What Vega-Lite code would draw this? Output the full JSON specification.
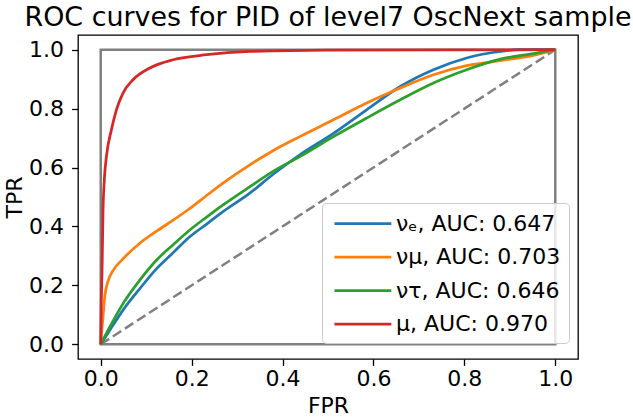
{
  "$schema": "https://vega.github.io/schema/vega-lite/v6.json",
  "width": 500,
  "height": 324,
  "autosize": {"type": "none"},
  "padding": {"left": 78, "top": 35, "right": 55, "bottom": 60},
  "background": "white",
  "title": {
    "text": "ROC curves for PID of level7 OscNext sample",
    "font": "DejaVu Sans",
    "fontSize": 26.9,
    "fontWeight": "normal",
    "color": "black",
    "anchor": "middle",
    "frame": "group",
    "baseline": "alphabetic",
    "offset": -18
  },
  "config": {
    "view": {"stroke": "black", "strokeWidth": 1.3},
    "axis": {
      "domain": false,
      "grid": false,
      "ticks": true,
      "tickColor": "black",
      "tickSize": 6.4,
      "tickWidth": 1.3,
      "labelFont": "DejaVu Sans",
      "labelFontSize": 22,
      "labelColor": "black",
      "titleFont": "DejaVu Sans",
      "titleFontSize": 22,
      "titleFontWeight": "normal",
      "titleColor": "black"
    },
    "legend": {
      "orient": "none",
      "legendX": 244,
      "legendY": 168,
      "labelFont": "DejaVu Sans",
      "labelFontSize": 22,
      "labelColor": "black",
      "labelLimit": 400,
      "symbolType": "M-0.73,0H4.44",
      "symbolSize": 484,
      "symbolStrokeWidth": 2.75,
      "labelOffset": 41,
      "padding": 8,
      "rowPadding": 9.5,
      "fillColor": "rgba(255,255,255,0.8)",
      "strokeColor": "#cccccc",
      "cornerRadius": 4
    }
  },
  "datasets": {
    "roc": [
      {"s": "νₑ, AUC: 0.647", "fpr": 0, "tpr": 0},
      {"s": "νₑ, AUC: 0.647", "fpr": 0.02, "tpr": 0.048},
      {"s": "νₑ, AUC: 0.647", "fpr": 0.049, "tpr": 0.116},
      {"s": "νₑ, AUC: 0.647", "fpr": 0.086, "tpr": 0.189},
      {"s": "νₑ, AUC: 0.647", "fpr": 0.123, "tpr": 0.257},
      {"s": "νₑ, AUC: 0.647", "fpr": 0.16, "tpr": 0.312},
      {"s": "νₑ, AUC: 0.647", "fpr": 0.196, "tpr": 0.365},
      {"s": "νₑ, AUC: 0.647", "fpr": 0.233, "tpr": 0.408},
      {"s": "νₑ, AUC: 0.647", "fpr": 0.269, "tpr": 0.45},
      {"s": "νₑ, AUC: 0.647", "fpr": 0.328, "tpr": 0.513},
      {"s": "νₑ, AUC: 0.647", "fpr": 0.38, "tpr": 0.578},
      {"s": "νₑ, AUC: 0.647", "fpr": 0.438, "tpr": 0.643},
      {"s": "νₑ, AUC: 0.647", "fpr": 0.512, "tpr": 0.716},
      {"s": "νₑ, AUC: 0.647", "fpr": 0.585, "tpr": 0.796},
      {"s": "νₑ, AUC: 0.647", "fpr": 0.659, "tpr": 0.875},
      {"s": "νₑ, AUC: 0.647", "fpr": 0.732, "tpr": 0.932},
      {"s": "νₑ, AUC: 0.647", "fpr": 0.805, "tpr": 0.972},
      {"s": "νₑ, AUC: 0.647", "fpr": 0.879, "tpr": 0.994},
      {"s": "νₑ, AUC: 0.647", "fpr": 0.92, "tpr": 1.0},
      {"s": "νₑ, AUC: 0.647", "fpr": 1.0, "tpr": 1.0},
      {"s": "νμ, AUC: 0.703", "fpr": 0, "tpr": 0},
      {"s": "νμ, AUC: 0.703", "fpr": 0.002, "tpr": 0.04},
      {"s": "νμ, AUC: 0.703", "fpr": 0.005, "tpr": 0.093},
      {"s": "νμ, AUC: 0.703", "fpr": 0.0088, "tpr": 0.161},
      {"s": "νμ, AUC: 0.703", "fpr": 0.016, "tpr": 0.214},
      {"s": "νμ, AUC: 0.703", "fpr": 0.027, "tpr": 0.25},
      {"s": "νμ, AUC: 0.703", "fpr": 0.049, "tpr": 0.29},
      {"s": "νμ, AUC: 0.703", "fpr": 0.086, "tpr": 0.343},
      {"s": "νμ, AUC: 0.703", "fpr": 0.123, "tpr": 0.384},
      {"s": "νμ, AUC: 0.703", "fpr": 0.16, "tpr": 0.422},
      {"s": "νμ, AUC: 0.703", "fpr": 0.196, "tpr": 0.461},
      {"s": "νμ, AUC: 0.703", "fpr": 0.233, "tpr": 0.505},
      {"s": "νμ, AUC: 0.703", "fpr": 0.269, "tpr": 0.547},
      {"s": "νμ, AUC: 0.703", "fpr": 0.328, "tpr": 0.609},
      {"s": "νμ, AUC: 0.703", "fpr": 0.38, "tpr": 0.658},
      {"s": "νμ, AUC: 0.703", "fpr": 0.438, "tpr": 0.705},
      {"s": "νμ, AUC: 0.703", "fpr": 0.512, "tpr": 0.762},
      {"s": "νμ, AUC: 0.703", "fpr": 0.585, "tpr": 0.819},
      {"s": "νμ, AUC: 0.703", "fpr": 0.659, "tpr": 0.87},
      {"s": "νμ, AUC: 0.703", "fpr": 0.732, "tpr": 0.915},
      {"s": "νμ, AUC: 0.703", "fpr": 0.805, "tpr": 0.946},
      {"s": "νμ, AUC: 0.703", "fpr": 0.879, "tpr": 0.963},
      {"s": "νμ, AUC: 0.703", "fpr": 0.952, "tpr": 0.981},
      {"s": "νμ, AUC: 0.703", "fpr": 1.0, "tpr": 1.0},
      {"s": "ντ, AUC: 0.646", "fpr": 0, "tpr": 0},
      {"s": "ντ, AUC: 0.646", "fpr": 0.02, "tpr": 0.059},
      {"s": "ντ, AUC: 0.646", "fpr": 0.049, "tpr": 0.138},
      {"s": "ντ, AUC: 0.646", "fpr": 0.086, "tpr": 0.218},
      {"s": "ντ, AUC: 0.646", "fpr": 0.123, "tpr": 0.286},
      {"s": "ντ, AUC: 0.646", "fpr": 0.16, "tpr": 0.339},
      {"s": "ντ, AUC: 0.646", "fpr": 0.196, "tpr": 0.388},
      {"s": "ντ, AUC: 0.646", "fpr": 0.233, "tpr": 0.432},
      {"s": "ντ, AUC: 0.646", "fpr": 0.269, "tpr": 0.473},
      {"s": "ντ, AUC: 0.646", "fpr": 0.328, "tpr": 0.535},
      {"s": "ντ, AUC: 0.646", "fpr": 0.38, "tpr": 0.588},
      {"s": "ντ, AUC: 0.646", "fpr": 0.438, "tpr": 0.637},
      {"s": "ντ, AUC: 0.646", "fpr": 0.512, "tpr": 0.705},
      {"s": "ντ, AUC: 0.646", "fpr": 0.585, "tpr": 0.768},
      {"s": "ντ, AUC: 0.646", "fpr": 0.659, "tpr": 0.83},
      {"s": "ντ, AUC: 0.646", "fpr": 0.732, "tpr": 0.887},
      {"s": "ντ, AUC: 0.646", "fpr": 0.805, "tpr": 0.932},
      {"s": "ντ, AUC: 0.646", "fpr": 0.879, "tpr": 0.968},
      {"s": "ντ, AUC: 0.646", "fpr": 0.952, "tpr": 0.987},
      {"s": "ντ, AUC: 0.646", "fpr": 1.0, "tpr": 1.0},
      {"s": "μ, AUC: 0.970", "fpr": 0, "tpr": 0},
      {"s": "μ, AUC: 0.970", "fpr": 0.001, "tpr": 0.12},
      {"s": "μ, AUC: 0.970", "fpr": 0.003, "tpr": 0.26},
      {"s": "μ, AUC: 0.970", "fpr": 0.005, "tpr": 0.45},
      {"s": "μ, AUC: 0.970", "fpr": 0.008, "tpr": 0.56},
      {"s": "μ, AUC: 0.970", "fpr": 0.0125, "tpr": 0.637},
      {"s": "μ, AUC: 0.970", "fpr": 0.0235, "tpr": 0.728},
      {"s": "μ, AUC: 0.970", "fpr": 0.0345, "tpr": 0.796},
      {"s": "μ, AUC: 0.970", "fpr": 0.049, "tpr": 0.853},
      {"s": "μ, AUC: 0.970", "fpr": 0.071, "tpr": 0.898},
      {"s": "μ, AUC: 0.970", "fpr": 0.108, "tpr": 0.938},
      {"s": "μ, AUC: 0.970", "fpr": 0.159, "tpr": 0.966},
      {"s": "μ, AUC: 0.970", "fpr": 0.233, "tpr": 0.983},
      {"s": "μ, AUC: 0.970", "fpr": 0.328, "tpr": 0.994},
      {"s": "μ, AUC: 0.970", "fpr": 0.5, "tpr": 0.999},
      {"s": "μ, AUC: 0.970", "fpr": 1.0, "tpr": 1.0}
    ]
  },
  "encoding": {
    "x": {
      "field": "fpr",
      "type": "quantitative",
      "scale": {"domain": [-0.05, 1.05], "nice": false, "zero": false},
      "axis": {"title": "FPR", "values": [0, 0.2, 0.4, 0.6, 0.8, 1.0], "format": ".1f", "labelPadding": 3, "titlePadding": 6}
    },
    "y": {
      "field": "tpr",
      "type": "quantitative",
      "scale": {"domain": [-0.05, 1.05], "nice": false, "zero": false},
      "axis": {"title": "TPR", "values": [0, 0.2, 0.4, 0.6, 0.8, 1.0], "format": ".1f", "labelPadding": 8, "titlePadding": 2}
    }
  },
  "layer": [
    {
      "data": {"values": [{"fpr": 0, "tpr": 0, "fpr2": 1, "tpr2": 1}]},
      "mark": {"type": "rect", "fill": "transparent", "stroke": "#808080", "strokeWidth": 2.5},
      "encoding": {
        "x2": {"field": "fpr2"},
        "y2": {"field": "tpr2"}
      }
    },
    {
      "data": {"values": [{"fpr": 0, "tpr": 0}, {"fpr": 1, "tpr": 1}]},
      "mark": {"type": "line", "color": "#808080", "strokeWidth": 2.5, "strokeDash": [10, 4.4]},
      "encoding": {}
    },
    {
      "data": {"name": "roc"},
      "mark": {"type": "line", "strokeWidth": 2.75, "interpolate": "monotone"},
      "encoding": {
        "color": {
          "field": "s",
          "type": "nominal",
          "title": null,
          "scale": {
            "domain": ["νₑ, AUC: 0.647", "νμ, AUC: 0.703", "ντ, AUC: 0.646", "μ, AUC: 0.970"],
            "range": ["#1f77b4", "#ff7f0e", "#2ca02c", "#d62728"]
          }
        }
      }
    }
  ]
}
